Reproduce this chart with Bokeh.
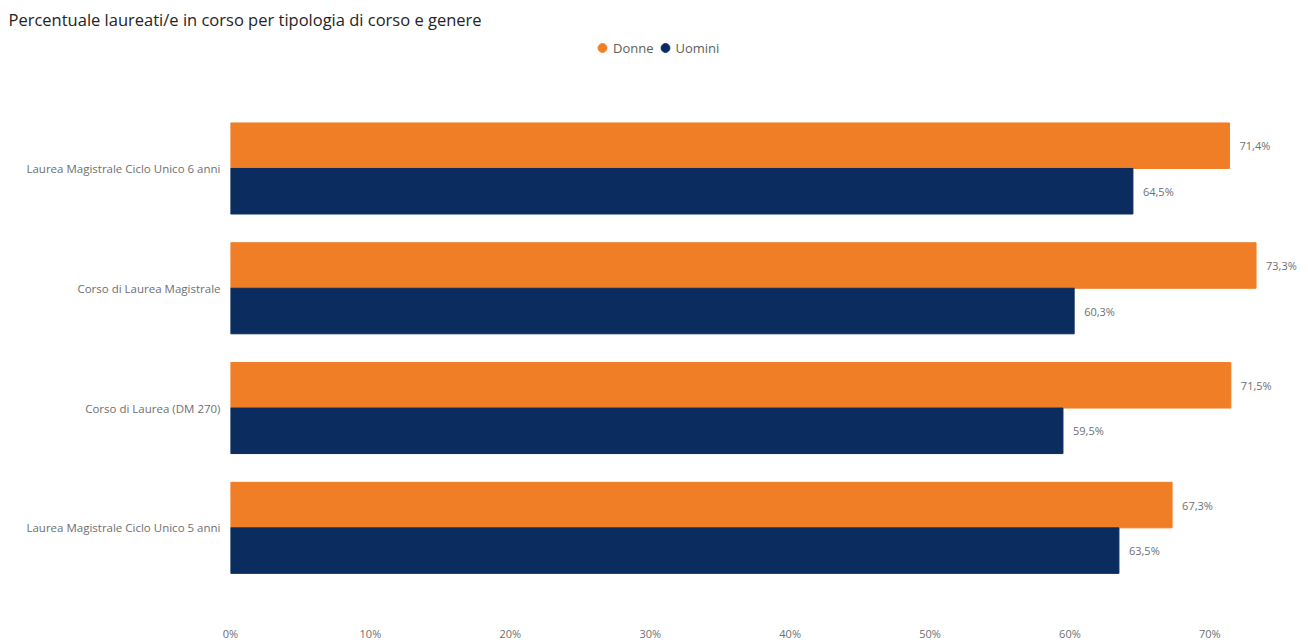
from bokeh.plotting import figure
from bokeh.models import (ColumnDataSource, Range1d, FixedTicker, Legend, LegendItem, Title)
from bokeh.core.properties import value
from bokeh.embed import file_html
from bokeh.resources import INLINE

# ---- data ----
categories = ["Laurea Magistrale Ciclo Unico 6 anni",
              "Corso di Laurea Magistrale",
              "Corso di Laurea (DM 270)",
              "Laurea Magistrale Ciclo Unico 5 anni"]
donne = [71.4, 73.3, 71.5, 67.3]
uomini = [64.5, 60.3, 59.5, 63.5]
x_ticks = [0, 10, 20, 30, 40, 50, 60, 70]
x_tick_labels = ["0%", "10%", "20%", "30%", "40%", "50%", "60%", "70%"]
title_text = "Percentuale laureati/e in corso per tipologia di corso e genere"
series_names = ["Donne", "Uomini"]

ORANGE = "#F07E26"
NAVY = "#0B2C5E"
LABEL = "#6f6f6f"
FONT = "Open Sans"

n = len(categories)
ypos = [n - 1 - i for i in range(n)]  # top to bottom
off = 0.19
bh = 0.38


def fmt(v):
    return f"{v:.1f}".replace(".", ",") + "%"


src_d = ColumnDataSource(dict(y=[y + off for y in ypos], v=donne, lab=[fmt(v) for v in donne]))
src_u = ColumnDataSource(dict(y=[y - off for y in ypos], v=uomini, lab=[fmt(v) for v in uomini]))

p = figure(width=1308, height=643, output_backend="svg", toolbar_location=None,
           x_range=Range1d(0, 77.05), y_range=Range1d(-0.498, 4.11),
           min_border_left=230, min_border_right=0, min_border_bottom=54,
           min_border_top=0)

p.title = Title(text=title_text, align="left", text_font=FONT, text_font_size="16.5px",
                text_font_style="normal", text_color="#252423", offset=-222)

p.hbar(y="y", right="v", left=0, height=bh, color=ORANGE, source=src_d)
p.hbar(y="y", right="v", left=0, height=bh, color=NAVY, source=src_u)

for src in (src_d, src_u):
    p.text(x="v", y="y", text="lab", x_offset=10, text_baseline="middle", text_align="left",
           text_font=value(FONT), text_font_size="11px", text_color=LABEL, source=src)

# legend (glyph renderers placed outside the visible range, used only for the legend)
r1 = p.scatter(x=[-100], y=[-100], marker="circle", size=11, color=ORANGE)
r2 = p.scatter(x=[-100], y=[-100], marker="circle", size=11, color=NAVY)
legend = Legend(items=[LegendItem(label=series_names[0], renderers=[r1]),
                       LegendItem(label=series_names[1], renderers=[r2])],
                orientation="horizontal", location=(361, 527),
                border_line_alpha=0, background_fill_alpha=0,
                label_text_font=FONT, label_text_font_size="13px", label_text_color="#605E5C",
                glyph_width=22, glyph_height=25, label_standoff=0, spacing=0,
                padding=0, margin=0)
p.add_layout(legend)

# axes
p.xaxis.ticker = FixedTicker(ticks=x_ticks)
p.xaxis.major_label_overrides = {t: l for t, l in zip(x_ticks, x_tick_labels)}
p.yaxis.ticker = FixedTicker(ticks=ypos)
p.yaxis.major_label_overrides = {y: c for y, c in zip(ypos, categories)}
for ax in (p.xaxis[0], p.yaxis[0]):
    ax.axis_line_color = None
    ax.major_tick_line_color = None
    ax.minor_tick_line_color = None
    ax.major_tick_out = 0
    ax.major_tick_in = 0
    ax.minor_tick_out = 0
    ax.minor_tick_in = 0
    ax.major_label_text_font = FONT
    ax.major_label_text_color = LABEL
p.xaxis.major_label_text_font_size = "11px"
p.yaxis.major_label_text_font_size = "11.5px"
p.xaxis.major_label_standoff = 38
p.yaxis.major_label_standoff = 10

p.xgrid.grid_line_color = None
p.ygrid.grid_line_color = None
p.outline_line_color = None

open("out.html", "w").write(file_html(p, INLINE))
